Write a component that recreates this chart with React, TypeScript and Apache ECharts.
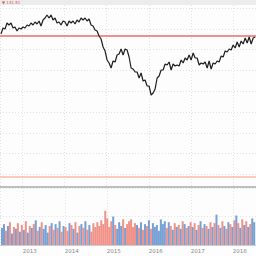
import React, { useEffect, useRef } from "react";
import * as echarts from "echarts";

// Sampling: one point roughly every 17 days from mid 2012 to mid 2018
const START_DATE = Date.UTC(2012, 5, 25);
const END_DATE = Date.UTC(2018, 6, 13);
const STEP_DAYS = 17.27;

const prices: number[] = [
  136.5, 139.5, 139, 142, 141, 142, 139.5, 140, 138, 139.5, 139, 140, 139.5, 141, 140.5, 142,
  141, 142.5, 141.5, 143, 140.5, 143.5, 144.5, 146, 144.5, 146, 143.5, 144.5, 142, 142.5, 141, 143,
  142.5, 140.5, 143, 142, 143, 141.5, 143.5, 142.5, 144.5, 143.5, 144.5, 143, 144, 141, 140.5, 138.5,
  138, 135.5, 134, 130, 128, 123.5, 122, 119.5, 123, 122.5, 126, 126.5, 129, 126, 129, 128.5,
  125, 119.5, 119, 117.5, 117.5, 114.5, 117, 113, 113.5, 110.5, 110.5, 106, 107, 109, 114.5, 115.5,
  118.5, 118.5, 121.5, 121, 122.5, 118.5, 121.5, 120.5, 121, 120.5, 123.5, 122, 124.5, 123.5, 126, 123.5,
  127, 124.5, 124.5, 121, 122, 121.5, 122.5, 119.5, 123, 119, 122, 121.5, 123, 122.5, 125.5, 125,
  128, 127.5, 129, 128.5, 131, 129.5, 132.5, 130, 133, 131.5, 134.5, 132, 135, 131.5, 134.5, 135,
];

const volumes: number[] = [
  18, 22, 15, 20, 24, 12, 19, 17, 23, 14, 21, 16, 25, 13, 20, 18,
  22, 26, 15, 19, 24, 17, 21, 13, 20, 23, 16, 22, 18, 25, 14, 20,
  19, 15, 23, 21, 17, 24, 13, 20, 22, 18, 25, 16, 21, 14, 23, 19,
  24, 20, 26, 22, 36, 28, 19, 25, 30, 21, 17, 24, 20, 27, 18, 22,
  25, 27, 19, 23, 21, 18, 24, 16, 22, 20, 26, 17, 23, 19, 21, 15,
  27, 22, 25, 18, 24, 20, 16, 23, 19, 21, 17, 25, 22, 18, 20, 24,
  19, 23, 16, 21, 25, 18, 22, 20, 17, 24, 19, 23, 32, 21, 18, 25,
  20, 17, 24, 22, 19, 26, 31, 23, 18, 27, 21, 25, 19, 22, 28, 24,
];

const UPPER_GUIDE = 135.65;
const LOWER_GUIDE = 65.35;
const LAST_LABEL = "▼ 141.51";

const DAY = 24 * 3600 * 1000;
const YEAR = 365 * DAY;

export default function App() {
  const ref = useRef<HTMLDivElement>(null);
  useEffect(() => {
    if (!ref.current) return;
    const chart = echarts.init(ref.current, null, { renderer: "svg" });
    const dates = prices.map((_, i) => START_DATE + (0.5 + i) * STEP_DAYS * DAY);
    const priceData = prices.map((p, i) => [dates[i], p]);
    const volData = volumes.map((v, i) => ({
      value: [dates[i], v],
      itemStyle: {
        color: i > 0 && prices[i] < prices[i - 1] ? "#ee7f74" : "#5f8fcf",
        opacity: 0.85,
      },
    }));
    const gridSplit = { show: true, lineStyle: { color: "#e2e2e2", type: [1, 2] as any, width: 1 } };
    const xCommon = {
      type: "time" as const,
      min: START_DATE,
      max: END_DATE,
      minInterval: YEAR,
      maxInterval: 366 * DAY,
      axisTick: { show: false },
    };
    chart.setOption({
      animation: false,
      backgroundColor: "#fcfdfc",
      grid: [
        { left: 0, right: 0, top: 5, height: 182 },
        { left: 0, right: 0, top: 188, height: 57 },
        { left: 0, right: 0, top: 8, height: 166.4 },
      ],
      xAxis: [
        {
          ...xCommon,
          gridIndex: 0,
          axisLine: { show: true, lineStyle: { color: "#a9a9a9", width: 1.5 } },
          axisLabel: { show: false },
          splitLine: gridSplit,
        },
        {
          ...xCommon,
          gridIndex: 1,
          axisLine: { show: true, lineStyle: { color: "#cccccc", width: 1 } },
          axisLabel: {
            show: true,
            color: "#8a8a8a",
            fontSize: 5.5,
            fontFamily: "DejaVu Sans",
            align: "left",
            margin: 3,
            showMinLabel: false,
            showMaxLabel: false,
            formatter: (v: number) => String(new Date(v).getUTCFullYear()),
          },
          splitLine: gridSplit,
        },
        { ...xCommon, gridIndex: 2, show: false },
      ],
      yAxis: [
        {
          type: "value",
          gridIndex: 0,
          min: 60,
          max: 151,
          show: false,
          splitLine: { show: false },
        },
        {
          type: "value",
          gridIndex: 1,
          min: 0,
          max: 60,
          interval: 30,
          axisLabel: { show: false },
          axisLine: { show: false },
          axisTick: { show: false },
          splitLine: gridSplit,
        },
        {
          type: "value",
          gridIndex: 2,
          inverse: true,
          min: 0,
          max: 8,
          interval: 1,
          axisLabel: { show: false },
          axisLine: { show: false },
          axisTick: { show: false },
          splitLine: gridSplit,
        },
      ],
      series: [
        {
          type: "line",
          xAxisIndex: 0,
          yAxisIndex: 0,
          data: priceData,
          symbol: "none",
          lineStyle: { color: "#1e1e1e", width: 1.2 },
          z: 5,
          markLine: {
            silent: true,
            symbol: "none",
            label: { show: false },
            data: [
              { yAxis: UPPER_GUIDE, lineStyle: { color: "#f06a6a", width: 1.5, type: "solid" } },
              { yAxis: LOWER_GUIDE, lineStyle: { color: "#f8bba4", width: 1.5, type: "solid" } },
            ],
          },
        },
        {
          type: "bar",
          xAxisIndex: 1,
          yAxisIndex: 1,
          data: volData,
          barWidth: 2,
          barGap: "0%",
        },
      ],
      graphic: [
        { type: "rect", left: 0, top: 0, shape: { width: 256, height: 5 }, style: { fill: "#ececec" }, z: 10 },
        {
          type: "text",
          left: 2,
          top: 0,
          style: { text: LAST_LABEL, fill: "#e05050", fontSize: 4, fontFamily: "DejaVu Sans" },
          z: 11,
        },
      ],
    });
    return () => chart.dispose();
  }, []);
  return (
    <div
      ref={ref}
      style={{ position: "fixed", left: 0, top: 0, width: 256, height: 256 }}
    />
  );
}
